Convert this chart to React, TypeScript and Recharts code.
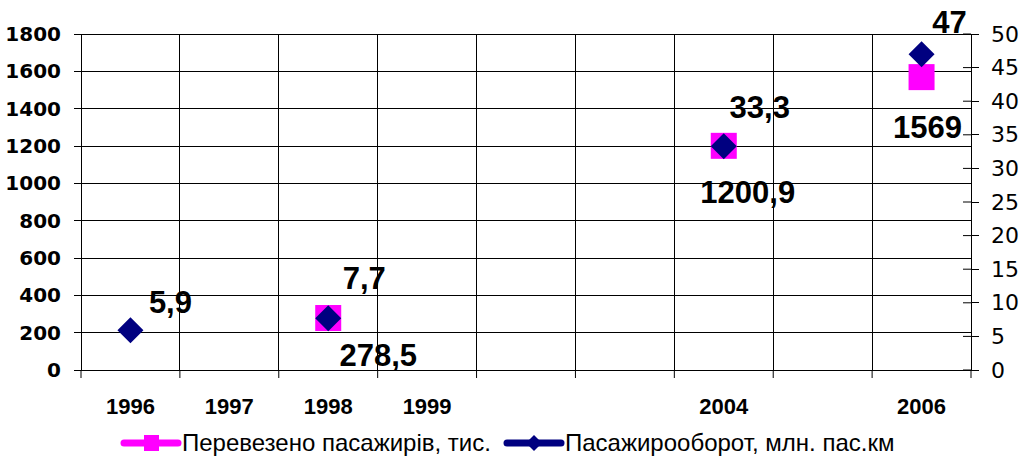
import * as React from 'react';
import {
  ComposedChart, Line, XAxis, YAxis, CartesianGrid, Legend, LabelList,
} from 'recharts';

// categories (blank slots are years with no point in the source table)
const years = ['1996', '1997', '1998', '1999', '', '', '2004', '', '2006'];
// Перевезено пасажирів, тис. (left axis)
const passengers: (number | null)[] = [null, null, 278.5, null, null, null, 1200.9, null, 1569];
// Пасажирооборот, млн. пас.км (right axis)
const turnover: (number | null)[] = [5.9, null, 7.7, null, null, null, 33.3, null, 47];

const leftTicks = [0, 200, 400, 600, 800, 1000, 1200, 1400, 1600, 1800];
const rightTicks = [0, 5, 10, 15, 20, 25, 30, 35, 40, 45, 50];

const PASS_NAME = 'Перевезено пасажирів, тис.';
const TURN_NAME = 'Пасажирооборот, млн. пас.км';

// label nudges relative to the point, as Excel placed them
const passLabelShift: [number, number][] = [[0, 0], [0, 0], [50, 37], [0, 0], [0, 0], [0, 0], [24, 47], [0, 0], [6, 50]];
const turnLabelShift: [number, number][] = [[40, -28], [0, 0], [36, -40], [0, 0], [0, 0], [0, 0], [36, -39], [0, 0], [28, -32]];

const FONT = '"Liberation Sans", Arial, sans-serif';
const WIDE = '"DejaVu Sans", sans-serif';
const MAGENTA = '#FF00FF';
const NAVY = '#000080';

const CHART_W = 1021;
const CHART_H = 456;
const LEFT_W = 81;
const RIGHT_W = 50;
const PLOT_W = CHART_W - LEFT_W - RIGHT_W;

// blank categories get a unique hidden key so the band scale keeps every slot
const GAP = '~';
const rows = years.map((year, i) => ({
  slot: year || `${GAP}${i}`,
  pass: passengers[i],
  turn: turnover[i],
}));

const fmt = (v: number) => String(v).replace('.', ',');

const SquareDot = (p: any) => {
  if (p.value == null || p.cy == null) return <g key={p.index} />;
  return <rect key={p.index} x={p.cx - 13} y={p.cy - 13} width={26} height={26} fill={MAGENTA} />;
};

const DiamondDot = (p: any) => {
  if (p.value == null || p.cy == null) return <g key={p.index} />;
  const r = 13;
  return (
    <path
      key={p.index}
      d={`M${p.cx},${p.cy - r}L${p.cx + r},${p.cy}L${p.cx},${p.cy + r}L${p.cx - r},${p.cy}Z`}
      fill={NAVY}
    />
  );
};

const makeLabel = (shift: [number, number][]) => (p: any) => {
  if (p.value == null || p.y == null) return null;
  const [dx, dy] = shift[p.index] || [0, 0];
  return (
    <text
      x={p.x + dx}
      y={p.y + dy}
      textAnchor="middle"
      dominantBaseline="central"
      fontFamily={FONT}
      fontSize={31}
      fontWeight="bold"
      fill="#000"
    >
      {fmt(p.value)}
    </text>
  );
};

const X_TICK = 8;
const X_MARGIN = 20;

// category label + tick marks on the category boundaries (Excel style)
const XTick = (p: any) => {
  const { x, y, payload, index, visibleTicksCount } = p;
  const axisY = y - X_TICK - X_MARGIN;
  const half = PLOT_W / years.length / 2;
  const text = String(payload.value).startsWith(GAP) ? '' : payload.value;
  return (
    <g>
      <line x1={x - half} x2={x - half} y1={axisY} y2={axisY + X_TICK} stroke="#000" />
      {index === visibleTicksCount - 1 && (
        <line x1={x + half} x2={x + half} y1={axisY} y2={axisY + X_TICK} stroke="#000" />
      )}
      <text x={x} y={y} dy="0.71em" textAnchor="middle" fontFamily={FONT} fontSize={22} fontWeight="bold" fill="#000">
        {text}
      </text>
    </g>
  );
};

const RightTick = (p: any) => {
  const { x, y, payload } = p;
  // x is text position = axis + tickSize(8) + tickMargin(12); add inward half of the cross tick
  const axisX = x - 20;
  return (
    <g>
      <line x1={axisX - 8} x2={axisX} y1={y} y2={y} stroke="#000" />
      <text x={x} y={y} dominantBaseline="central" fontFamily={WIDE} fontSize={22} fill="#000">
        {payload.value}
      </text>
    </g>
  );
};

const LegendIcon = ({ kind }: { kind: 'square' | 'diamond' }) => (
  <svg width={62} height={20} style={{ display: 'block' }}>
    <line x1={4} x2={58} y1={10} y2={10} stroke={kind === 'square' ? MAGENTA : NAVY} strokeWidth={7} strokeLinecap="round" />
    {kind === 'square'
      ? <rect x={24} y={2} width={15} height={16} fill={MAGENTA} />
      : <path d="M31,2L39,10L31,18L23,10Z" fill={NAVY} />}
  </svg>
);

const renderLegend = () => (
  <div
    style={{
      display: 'flex',
      alignItems: 'center',
      boxSizing: 'border-box',
      height: 32,
      paddingLeft: 120,
      paddingTop: 6,
      fontFamily: FONT,
      fontSize: 24,
      color: '#000',
      whiteSpace: 'nowrap',
    }}
  >
    <LegendIcon kind="square" />
    <span style={{ marginRight: 12 }}>{PASS_NAME}</span>
    <LegendIcon kind="diamond" />
    <span>{TURN_NAME}</span>
  </div>
);

const boundaryLines = ({ offset }: any) =>
  Array.from({ length: years.length + 1 }, (_, i) => offset.left + (i * offset.width) / years.length);

export default function App() {
  return (
    <div style={{ position: 'absolute', left: 0, top: 0, background: '#fff' }}>
      <style>{`.recharts-cartesian-grid line, .recharts-cartesian-axis line { shape-rendering: crispEdges; }`}</style>
      <ComposedChart
        width={CHART_W}
        height={CHART_H}
        data={rows}
        margin={{ top: 34, right: 0, bottom: 0, left: 0 }}
      >
        <CartesianGrid
          yAxisId="left"
          stroke="#000"
          strokeWidth={1}
          verticalCoordinatesGenerator={boundaryLines}
        />
        <XAxis
          dataKey="slot"
          type="category"
          scale="band"
          allowDuplicatedCategory={false}
          interval={0}
          height={54}
          axisLine={{ stroke: '#000' }}
          tickLine={{ stroke: 'none' }}
          tickSize={X_TICK}
          tickMargin={X_MARGIN}
          tick={<XTick />}
        />
        <YAxis
          yAxisId="left"
          domain={[0, 1800]}
          ticks={leftTicks}
          interval={0}
          width={LEFT_W}
          tickSize={7}
          tickMargin={13}
          axisLine={{ stroke: '#000' }}
          tickLine={{ stroke: '#000' }}
          tick={{ fontFamily: WIDE, fontSize: 20, fontWeight: 'bold', fill: '#000' }}
        />
        <YAxis
          yAxisId="right"
          orientation="right"
          domain={[0, 50]}
          ticks={rightTicks}
          interval={0}
          width={RIGHT_W}
          tickSize={8}
          tickMargin={12}
          axisLine={{ stroke: '#000' }}
          tickLine={{ stroke: '#000' }}
          tick={<RightTick />}
        />
        <Legend verticalAlign="bottom" content={renderLegend} />
        <Line
          yAxisId="left"
          dataKey="pass"
          name={PASS_NAME}
          stroke={MAGENTA}
          strokeWidth={5}
          dot={SquareDot}
          activeDot={false}
          isAnimationActive={false}
        >
          <LabelList dataKey="pass" content={makeLabel(passLabelShift)} />
        </Line>
        <Line
          yAxisId="right"
          dataKey="turn"
          name={TURN_NAME}
          stroke={NAVY}
          strokeWidth={5}
          dot={DiamondDot}
          activeDot={false}
          isAnimationActive={false}
        >
          <LabelList dataKey="turn" content={makeLabel(turnLabelShift)} />
        </Line>
      </ComposedChart>
    </div>
  );
}
